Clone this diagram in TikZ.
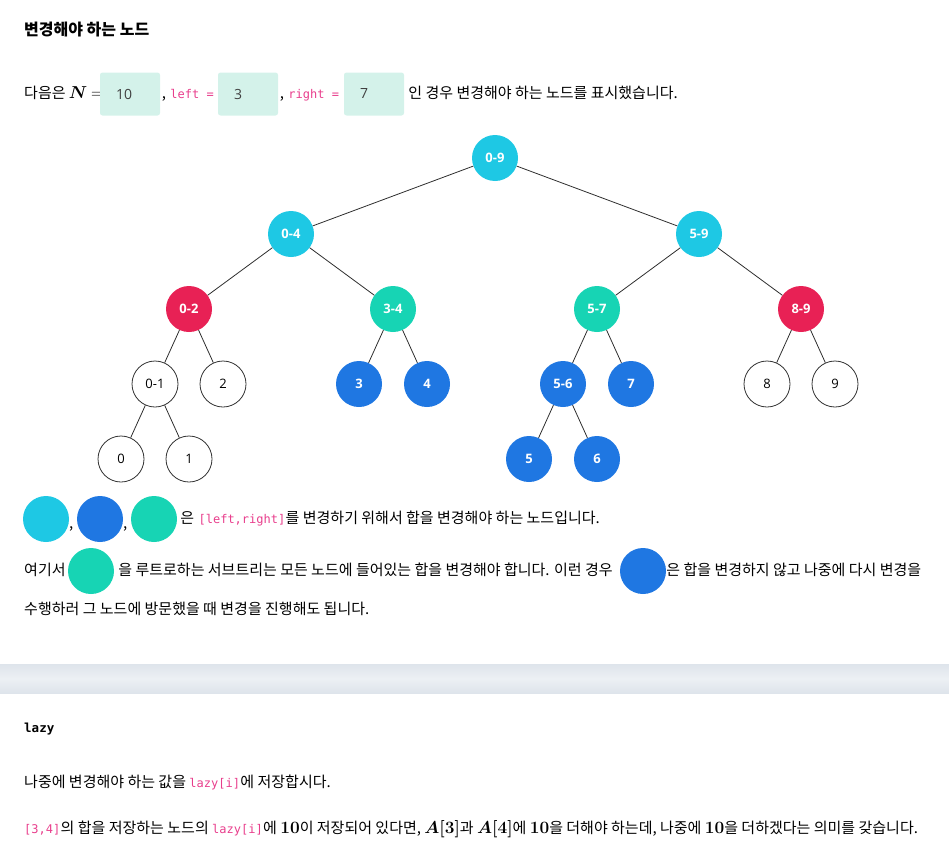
\documentclass[tikz,border=0pt]{standalone}
\usepackage[no-math]{fontspec}
\usepackage{bm}
\setmainfont{Noto Sans CJK KR}
\setmonofont{DejaVu Sans Mono}
\newfontfamily\labelfont{Open Sans}
\usetikzlibrary{positioning}
\definecolor{segcyan}{RGB}{30,200,228}
\definecolor{segblue}{RGB}{31,119,226}
\definecolor{segteal}{RGB}{23,212,180}
\definecolor{segred}{RGB}{232,33,85}
\definecolor{valmint}{RGB}{212,242,234}
\definecolor{codepink}{RGB}{232,62,140}
\definecolor{bandgray}{RGB}{222,228,235}
\definecolor{bandlight}{RGB}{236,240,244}
\newcommand{\km}[1]{{\fontsize{17.5}{20}\selectfont\boldmath$#1$}}
\newcommand{\kmn}[1]{{\fontsize{17}{20}\selectfont$#1$}}
\tikzset{
  edge/.style={draw=black!82,line width=0.8pt},
  seg/.style={circle,minimum size=46pt,inner sep=0pt,
              font=\labelfont\fontsize{13}{15}\selectfont},
  plain/.style={seg,draw=black!80,line width=0.8pt,fill=white},
  hot/.style={seg,text=white,font=\labelfont\bfseries\fontsize{13}{15}\selectfont},
  cyannode/.style={hot,fill=segcyan},
  bluenode/.style={hot,fill=segblue},
  tealnode/.style={hot,fill=segteal},
  rednode/.style={hot,fill=segred},
  txt/.style={inner sep=0pt,text height=12pt,text depth=3pt,
              font=\fontsize{15}{18}\selectfont},
  code/.style={txt,text=codepink,font=\ttfamily\fontsize{12}{14}\selectfont},
  valbox/.style={fill=valmint,rounded corners=2.5pt,minimum height=43pt,
                 text width=28pt,inner xsep=16pt,align=left,text=black!75,
                 font=\labelfont\fontsize{14}{17}\selectfont},
}

\begin{document}
\begin{tikzpicture}[x=1pt,y=-1pt]
  \path[use as bounding box] (0,0) rectangle (949,867);

  \node[txt,anchor=west,font=\bfseries\fontsize{16}{19}\selectfont] (title) at (24,31) {변경해야 하는 노드};

  % input line
  \node[txt,anchor=west] (intro) at (24,94) {다음은 \kmn{\bm{N}\mskip4mu{=}}};
  \node[valbox] (valn) at (130,94) {10};
  \node[txt,right=1.5pt of valn] (comma1) {,};
  \node[code,right=4pt of comma1] (leftkey) {left =};
  \node[valbox] (vall) at (248,94) {3};
  \node[txt,right=1.5pt of vall] (comma2) {,};
  \node[code,right=4pt of comma2] (rightkey) {right =};
  \node[valbox] (valr) at (374,94) {7};
  \node[txt,right=4pt of valr] (introtail) {인 경우 변경해야 하는 노드를 표시했습니다.};

  % segment tree
  \node[cyannode] (r09) at (495,158) {0-9};
  \node[cyannode] (r04) at (291,234) {0-4};
  \node[cyannode] (r59) at (699,234) {5-9};
  \node[rednode]  (r02) at (189,309) {0-2};
  \node[tealnode] (r34) at (393,309) {3-4};
  \node[tealnode] (r57) at (597,309) {5-7};
  \node[rednode]  (r89) at (801,309) {8-9};
  \node[plain]    (r01) at (155,384) {0-1};
  \node[plain]    (r2)  at (223,384) {2};
  \node[bluenode] (r3)  at (359,384) {3};
  \node[bluenode] (r4)  at (427,384) {4};
  \node[bluenode] (r56) at (563,384) {5-6};
  \node[bluenode] (r7)  at (631,384) {7};
  \node[plain]    (r8)  at (767,384) {8};
  \node[plain]    (r9)  at (835,384) {9};
  \node[plain]    (r0)  at (121,459) {0};
  \node[plain]    (r1)  at (189,459) {1};
  \node[bluenode] (r5)  at (529,459) {5};
  \node[bluenode] (r6)  at (597,459) {6};

  \foreach \a/\b in {r09/r04,r09/r59,r04/r02,r04/r34,r59/r57,r59/r89,
                     r02/r01,r02/r2,r34/r3,r34/r4,r57/r56,r57/r7,r89/r8,r89/r9,
                     r01/r0,r01/r1,r56/r5,r56/r6}
    \draw[edge] (\a) -- (\b);

  % legend
  \node[cyannode] (keycyan) at (46,519) {};
  \node[txt,anchor=west] (kc1) at (69,524) {,};
  \node[bluenode] (keyblue) at (100,519) {};
  \node[txt,anchor=west] (kc2) at (123,524) {,};
  \node[tealnode] (keyteal) at (154,519) {};
  \node[txt,right=3pt of keyteal] (keytxt) {은};
  \node[code,right=4pt of keytxt] (keycode) {[left,right]};
  \node[txt,right=0pt of keycode] (keytail) {를 변경하기 위해서 합을 변경해야 하는 노드입니다.};

  \node[txt,anchor=west] (here) at (24,571) {여기서};
  \node[tealnode] (herteal) at (91,571) {};
  \node[txt,right=4pt of herteal] (mid) {을 루트로하는 서브트리는 모든 노드에 들어있는 합을 변경해야 합니다. 이런 경우};
  \node[bluenode] (herblue) at (643,571) {};
  \node[txt,right=0pt of herblue] (midtail) {은 합을 변경하지 않고 나중에 다시 변경을};
  \node[txt,anchor=west] (wrap) at (24,610) {수행하러 그 노드에 방문했을 때 변경을 진행해도 됩니다.};

  % divider
  \shade[top color=bandgray,bottom color=bandgray,middle color=bandlight] (0,664) rectangle (949,693);

  \node[txt,anchor=west,font=\ttfamily\bfseries\fontsize{12.5}{15}\selectfont] (lazyhead) at (24,728) {lazy};

  \node[txt,anchor=west] (lz1) at (24,783) {나중에 변경해야 하는 값을};
  \node[code,right=3pt of lz1] (lz1code) {lazy[i]};
  \node[txt,right=0pt of lz1code] (lz1tail) {에 저장합시다.};

  \node[code,anchor=west] (lz2code) at (24,829) {[3,4]};
  \node[txt,right=0pt of lz2code] (lz2mid) {의 합을 저장하는 노드의};
  \node[code,right=3pt of lz2mid] (lz2lazy) {lazy[i]};
  \node[txt,right=0pt of lz2lazy] (lz2tail)
    {에 \km{10}이 저장되어 있다면, \km{A[3]}과 \km{A[4]}에 \km{10}을 더해야 하는데, 나중에 \km{10}을 더하겠다는 의미를 갖습니다.};
\end{tikzpicture}
\end{document}
